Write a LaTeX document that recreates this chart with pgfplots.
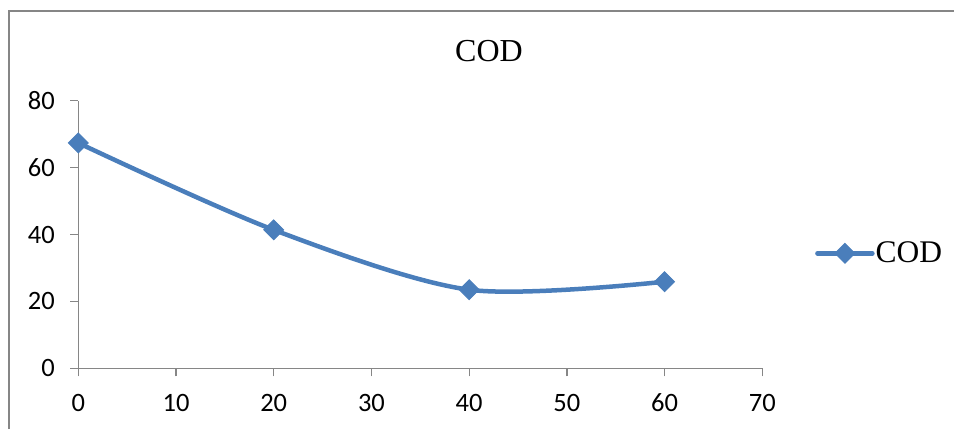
\documentclass[border=0pt]{standalone}
\usepackage{pgfplots}
\pgfplotsset{compat=1.18}
\usepackage{fontspec}
\setmainfont{Liberation Serif}
\newfontfamily\calibri{Carlito}
\definecolor{codblue}{HTML}{4A7EBB}
\definecolor{axgray}{HTML}{868686}
\begin{document}
\begin{tikzpicture}
\useasboundingbox (0,0) rectangle (954pt,429pt);
\draw[axgray, line width=1.5pt] (9pt,0pt) -- (9pt,418pt) -- (954pt,418pt);
\node[font=\fontsize{32}{36}\selectfont, anchor=center] at (489pt,378pt) {COD};
\begin{axis}[
  at={(78.3pt,60.7pt)}, anchor=south west,
  scale only axis, width=684pt, height=267.5pt,
  xmin=0, xmax=70, ymin=0, ymax=80,
  xtick={0,10,...,70}, ytick={0,20,...,80},
  axis lines=left, axis line style={-, axgray, line width=1.3pt},
  tick align=outside, major tick length=8pt,
  every tick/.style={axgray, line width=1.3pt},
  tick label style={font=\calibri\fontsize{26.5}{29}\selectfont},
  /pgf/number format/assume math mode=true,
  xticklabel style={yshift=-14pt},
  yticklabel style={xshift=-12pt},
  clip=false,
  legend style={draw=none, fill=none, at={(1.077,0.43)}, anchor=west,
    font=\fontsize{31.5}{34}\selectfont, inner sep=0pt,
    nodes={inner sep=1pt}},
  legend image code/.code={
    \draw[codblue, line width=4.5pt, line cap=round] (0pt,0pt) -- (55pt,0pt);
    \draw[codblue, fill=codblue, line width=1pt] plot[mark=square*, mark size=7pt, mark options={rotate=45}] coordinates {(27.5pt,0pt)};
  },
]
\addplot[codblue, line width=4.5pt, smooth, tension=0.5,
  mark=square*, mark size=7pt,
  mark options={solid, rotate=45, fill=codblue, draw=codblue, line width=1pt}]
  coordinates {(0,67.4) (20,41.4) (40,23.5) (60,25.9)};
\addlegendentry{COD}
\end{axis}
\end{tikzpicture}
\end{document}
